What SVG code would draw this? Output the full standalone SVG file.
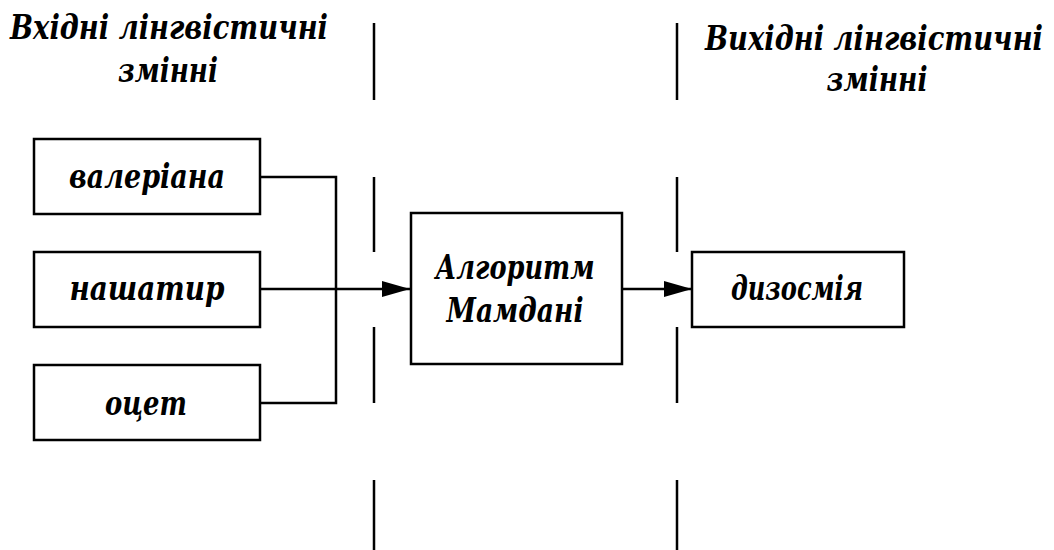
<svg xmlns="http://www.w3.org/2000/svg" width="1054" height="550" viewBox="0 0 1054 550">
<style>
.box{fill:#fff;stroke:#000;stroke-width:2.5}
.t{font-family:'DejaVu Serif',serif;font-weight:bold;font-style:italic;font-size:34px;fill:#000;text-anchor:middle}
.ln{fill:none;stroke:#000;stroke-width:2.5}
</style>
<defs>
<marker id="ah" markerWidth="28" markerHeight="16" refX="28" refY="8" orient="auto" markerUnits="userSpaceOnUse">
<path d="M0,0 L28,8 L0,16 Z" fill="#000"/>
</marker>
</defs>
<g id="header-in"><text class="t" x="169" y="39" textLength="318" lengthAdjust="spacingAndGlyphs">Вхідні лінгвістичні</text><text class="t" x="168" y="82" textLength="100" lengthAdjust="spacingAndGlyphs">змінні</text></g>
<g id="header-out"><text class="t" x="874" y="50" textLength="338" lengthAdjust="spacingAndGlyphs">Вихідні лінгвістичні</text><text class="t" x="877" y="91" textLength="101" lengthAdjust="spacingAndGlyphs">змінні</text></g>
<g id="dividers" class="ln">
<path d="M374,23V100M374,177V252M374,327V403M374,480V550"/>
<path d="M677,23V100M677,177V252M677,327V403M677,480V550"/>
</g>
<g id="connectors" class="ln">
<path d="M260,177H336V403H260"/>
<path d="M260,289H410" marker-end="url(#ah)"/>
<path d="M622,289H692" marker-end="url(#ah)"/>
</g>
<g id="n-valeriana"><rect class="box" x="34" y="139" width="226" height="75"/><text class="t" x="147" y="188" textLength="156" lengthAdjust="spacingAndGlyphs">валеріана</text></g>
<g id="n-nashatyr"><rect class="box" x="34" y="252" width="226" height="75"/><text class="t" x="147" y="300" textLength="155" lengthAdjust="spacingAndGlyphs">нашатир</text></g>
<g id="n-otset"><rect class="box" x="34" y="365" width="226" height="75"/><text class="t" x="146" y="415" textLength="82" lengthAdjust="spacingAndGlyphs">оцет</text></g>
<g id="n-mamdani"><rect class="box" x="411" y="213" width="211" height="151"/><text class="t" x="515" y="279" textLength="159" lengthAdjust="spacingAndGlyphs">Алгоритм</text><text class="t" x="515" y="322" textLength="137" lengthAdjust="spacingAndGlyphs">Мамдані</text></g>
<g id="n-dysosmia"><rect class="box" x="692" y="252" width="212" height="75"/><text class="t" x="797" y="300" textLength="132" lengthAdjust="spacingAndGlyphs">дизосмія</text></g>
</svg>
